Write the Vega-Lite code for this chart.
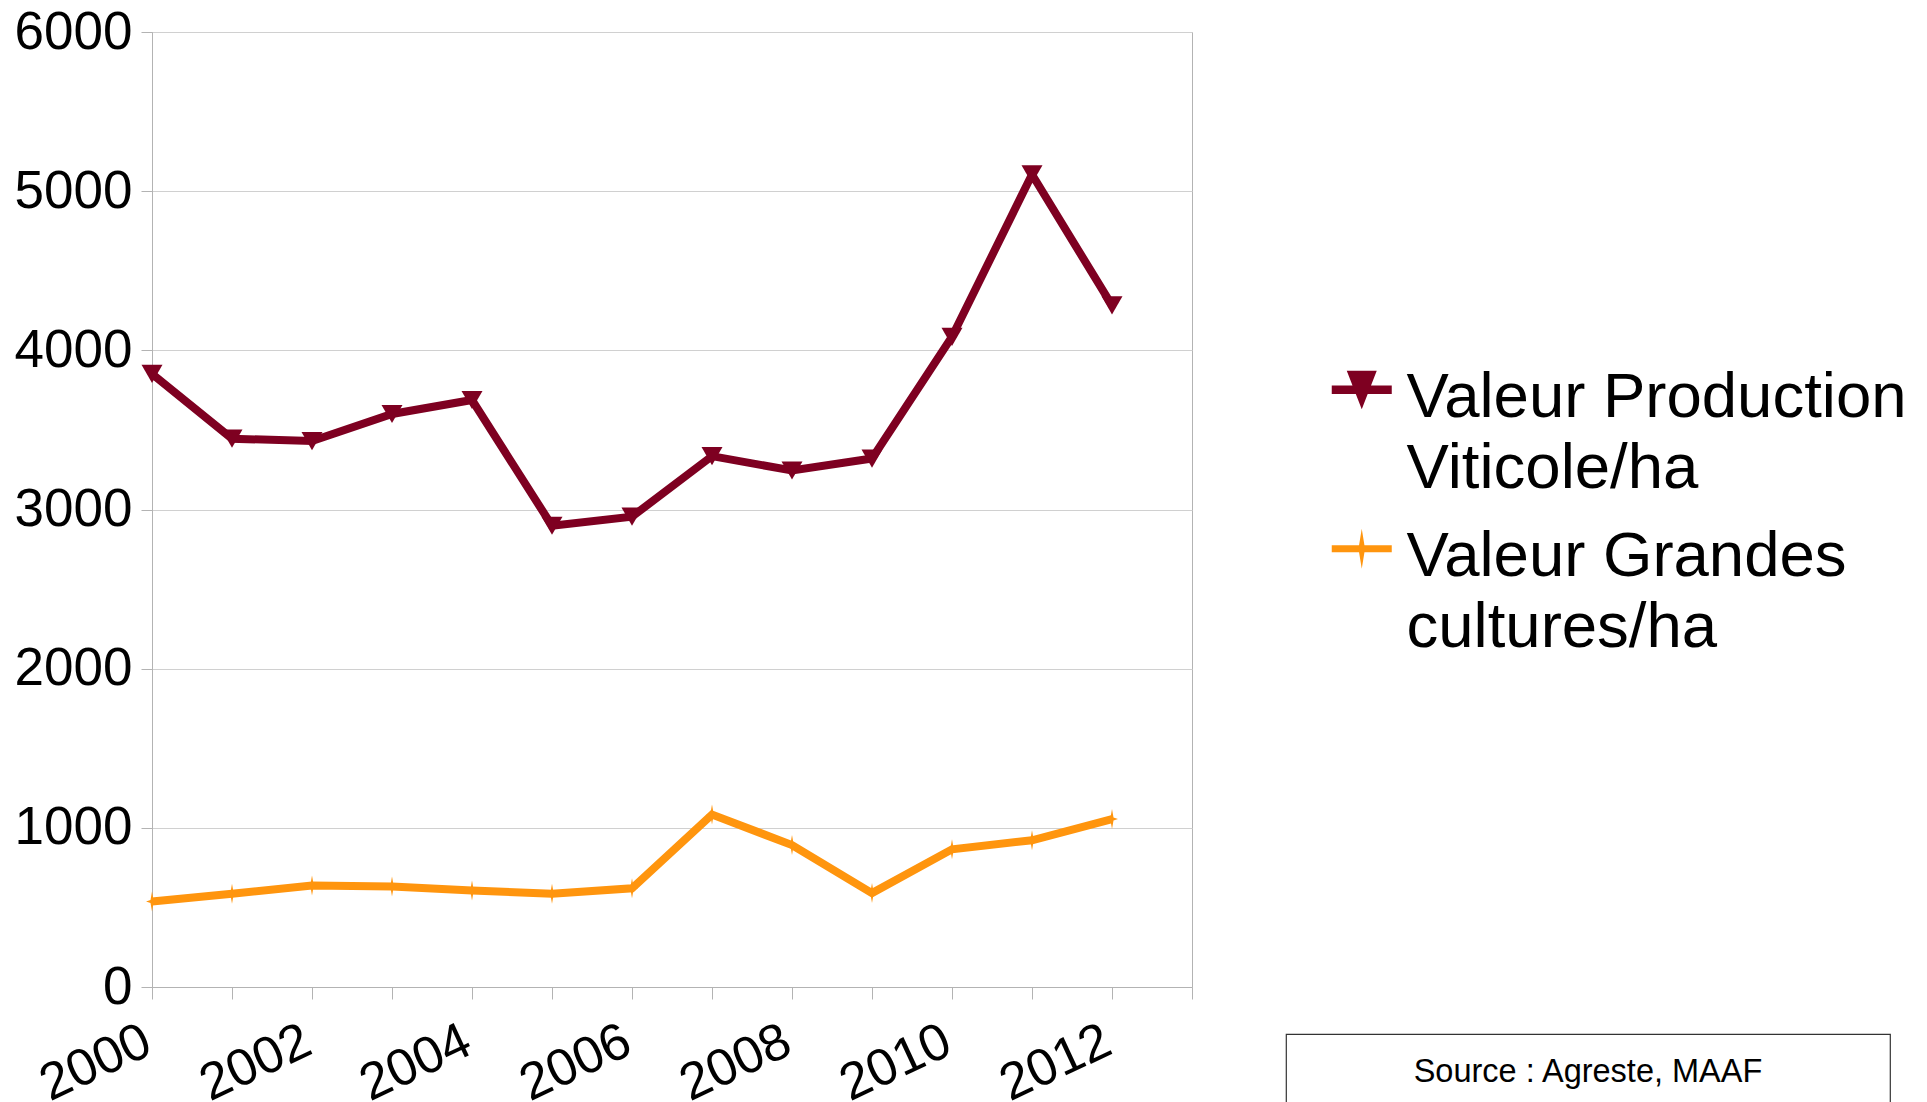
{
  "$schema": "https://vega.github.io/schema/vega-lite/v6.json",
  "autosize": {"type": "pad"},
  "padding": {"left": 13, "top": 5, "right": 0, "bottom": 0},
  "background": "white",
  "bounds": "flush",
  "spacing": 94,
  "config": {
    "font": "Liberation Sans",
    "view": {"stroke": "#b3b3b3", "strokeWidth": 1}
  },
  "resolve": {"scale": {"color": "independent"}, "legend": {"color": "independent"}},
  "hconcat": [
    {
      "width": 1040,
      "height": 955,
      "data": {
        "values": [
          {"year": 2000, "series": "Valeur Production Viticole/ha", "value": 3852},
          {"year": 2001, "series": "Valeur Production Viticole/ha", "value": 3445},
          {"year": 2002, "series": "Valeur Production Viticole/ha", "value": 3430},
          {"year": 2003, "series": "Valeur Production Viticole/ha", "value": 3600},
          {"year": 2004, "series": "Valeur Production Viticole/ha", "value": 3688},
          {"year": 2005, "series": "Valeur Production Viticole/ha", "value": 2898},
          {"year": 2006, "series": "Valeur Production Viticole/ha", "value": 2955},
          {"year": 2007, "series": "Valeur Production Viticole/ha", "value": 3335},
          {"year": 2008, "series": "Valeur Production Viticole/ha", "value": 3245},
          {"year": 2009, "series": "Valeur Production Viticole/ha", "value": 3320},
          {"year": 2010, "series": "Valeur Production Viticole/ha", "value": 4085},
          {"year": 2011, "series": "Valeur Production Viticole/ha", "value": 5105},
          {"year": 2012, "series": "Valeur Production Viticole/ha", "value": 4282},
          {"year": 2000, "series": "Valeur Grandes cultures/ha", "value": 537},
          {"year": 2001, "series": "Valeur Grandes cultures/ha", "value": 586},
          {"year": 2002, "series": "Valeur Grandes cultures/ha", "value": 638},
          {"year": 2003, "series": "Valeur Grandes cultures/ha", "value": 632},
          {"year": 2004, "series": "Valeur Grandes cultures/ha", "value": 607},
          {"year": 2005, "series": "Valeur Grandes cultures/ha", "value": 586},
          {"year": 2006, "series": "Valeur Grandes cultures/ha", "value": 620},
          {"year": 2007, "series": "Valeur Grandes cultures/ha", "value": 1083},
          {"year": 2008, "series": "Valeur Grandes cultures/ha", "value": 892},
          {"year": 2009, "series": "Valeur Grandes cultures/ha", "value": 590},
          {"year": 2010, "series": "Valeur Grandes cultures/ha", "value": 865},
          {"year": 2011, "series": "Valeur Grandes cultures/ha", "value": 922},
          {"year": 2012, "series": "Valeur Grandes cultures/ha", "value": 1055}
        ]
      },
      "encoding": {
        "x": {
          "field": "year", "type": "quantitative",
          "scale": {"domain": [2000, 2013], "nice": false, "zero": false},
          "axis": {
            "title": null,
            "values": [2000, 2001, 2002, 2003, 2004, 2005, 2006, 2007, 2008, 2009, 2010, 2011, 2012, 2013],
            "format": "d",
            "labelExpr": "datum.value % 2 == 0 ? datum.label : ''",
            "labelAngle": -25,
            "labelAlign": "right",
            "labelBaseline": "top",
            "labelFontSize": 52,
            "labelColor": "#000000",
            "labelPadding": 16,
            "labelOffset": -15,
            "labelOverlap": false,
            "labelFlush": false,
            "labelBound": false,
            "tickSize": 12,
            "tickColor": "#b3b3b3",
            "domainColor": "#b3b3b3",
            "grid": false
          }
        },
        "y": {
          "field": "value", "type": "quantitative",
          "scale": {"domain": [0, 6000], "nice": false},
          "axis": {
            "title": null,
            "values": [0, 1000, 2000, 3000, 4000, 5000, 6000],
            "format": "d",
            "labelFontSize": 53,
            "labelColor": "#000000",
            "labelPadding": 9,
            "tickSize": 11,
            "tickColor": "#b3b3b3",
            "domainColor": "#b3b3b3",
            "gridColor": "#d0d0d0",
            "labelFlush": false,
            "labelOverlap": false
          }
        },
        "color": {
          "field": "series", "type": "nominal",
          "scale": {"domain": ["Valeur Production Viticole/ha", "Valeur Grandes cultures/ha"], "range": ["#7e0021", "#ff950e"]},
          "legend": {
            "orient": "none",
            "legendX": 1178,
            "legendY": 326,
            "title": null,
            "symbolSize": 3600,
            "symbolStrokeWidth": 0,
            "labelFontSize": 63.5,
            "labelColor": "#000000",
            "labelBaseline": "top",
            "labelOffset": 13,
            "labelLimit": 800,
            "rowPadding": 16,
            "labelExpr": "datum.label == 'Valeur Production Viticole/ha' ? ['Valeur Production', 'Viticole/ha'] : ['Valeur Grandes', 'cultures/ha']",
            "encode": {
              "symbols": {
                "update": {
                  "shape": {"signal": "datum.value == 'Valeur Production Viticole/ha' ? 'M-1,-0.14L1,-0.14L1,0.14L-1,0.14Z M-0.5,-0.63L0.5,-0.63L0,0.65Z' : 'M-1,-0.12L1,-0.12L1,0.12L-1,0.12Z M0,-0.67L0.09,-0.12L0.25,0L0.09,0.12L0,0.67L-0.09,0.12L-0.25,0L-0.09,-0.12Z'"},
                  "fill": {"signal": "datum.value == 'Valeur Production Viticole/ha' ? '#7e0021' : '#ff950e'"},
                  "stroke": {"value": null},
                  "strokeWidth": {"value": 0},
                  "opacity": {"value": 1},
                  "fillOpacity": {"value": 1}
                }
              },
              "labels": {
                "update": {
                  "dy": {"value": -23},
                  "lineHeight": {"value": 71}
                }
              }
            }
          }
        }
      },
      "layer": [
        {
          "transform": [{"filter": "datum.series == 'Valeur Production Viticole/ha'"}],
          "mark": {"type": "point", "filled": true, "opacity": 1, "strokeWidth": 0, "shape": "triangle-down", "size": 441}
        },
        {
          "transform": [{"filter": "datum.series == 'Valeur Grandes cultures/ha'"}],
          "mark": {"type": "point", "filled": true, "opacity": 1, "strokeWidth": 0, "shape": "M0,-1L0.15,-0.15L0.6,0L0.15,0.15L0,1L-0.15,0.15L-0.6,0L-0.15,-0.15Z", "size": 400}
        },
        {
          "mark": {"type": "line", "strokeWidth": 8, "strokeJoin": "miter"}
        }
      ]
    },
    {
      "bounds": "flush",
      "spacing": 0,
      "vconcat": [
        {
          "width": 604,
          "height": 1002,
          "view": {"stroke": null},
          "data": {"values": [{"t": ""}]},
          "mark": {"type": "text"},
          "encoding": {"text": {"field": "t"}}
        },
        {
          "width": 604,
          "height": 76,
          "view": {"stroke": "#333333", "strokeWidth": 1.2},
          "data": {"values": [{"source": "Source : Agreste, MAAF"}]},
          "mark": {"type": "text", "fontSize": 32.5, "color": "#000000", "baseline": "middle", "align": "center"},
          "encoding": {"text": {"field": "source"}}
        }
      ]
    }
  ]
}
